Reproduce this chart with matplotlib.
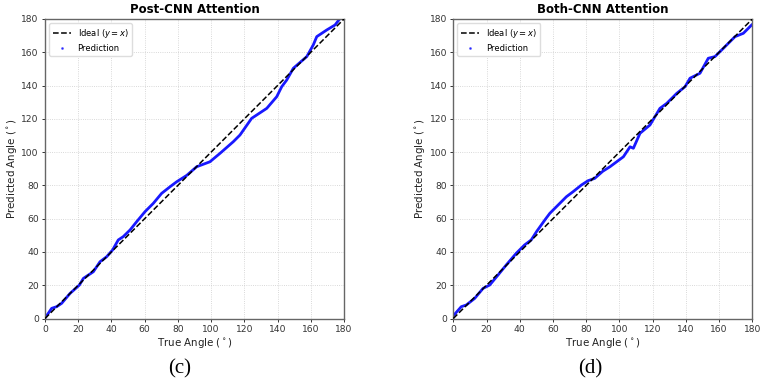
import matplotlib
matplotlib.use("Agg")
import matplotlib.pyplot as plt
from matplotlib.lines import Line2D

# readings (true angle, predicted angle)
post_true = [0.6, 4.0, 7.0, 10.0, 15.1, 20.7, 23.1, 29.1, 33.1, 37.1, 40.7, 44.1, 47.1,
             51.2, 55.2, 60.2, 65.2, 70.2, 75.3, 79.3, 85.3, 91.3, 99.3, 105.4, 113.4,
             117.4, 124.4, 133.5, 139.5, 142.5, 145.5, 149.5, 157.6, 161.5, 163.6,
             169.6, 174.6, 177.6, 180.0]
post_pred = [1.1, 6.1, 7.1, 9.1, 15.1, 20.1, 24.1, 28.1, 34.1, 37.1, 41.2, 47.2, 49.2,
             53.2, 58.2, 64.2, 69.2, 75.2, 79.2, 82.2, 86.0, 91.2, 94.2, 99.3, 106.3,
             110.3, 120.3, 126.3, 133.3, 139.3, 143.3, 150.4, 157.4, 164.4, 169.4,
             173.4, 176.4, 180.3, 182.0]

both_true = [0.4, 4.8, 7.8, 12.9, 17.9, 21.9, 26.9, 31.9, 37.9, 42.9, 46.9, 50.1, 55.1,
             58.1, 63.1, 68.1, 72.1, 77.1, 81.1, 85.1, 90.0, 94.3, 102.4, 106.4, 108.4,
             112.4, 118.4, 124.4, 128.5, 134.5, 139.5, 142.5, 148.5, 153.5, 157.5,
             162.6, 169.6, 174.6, 179.6]
both_pred = [2.1, 7.1, 8.1, 12.1, 18.1, 20.1, 26.1, 32.2, 39.2, 44.2, 47.2, 52.2, 59.2,
             63.2, 68.2, 73.2, 76.2, 80.2, 82.8, 84.2, 88.5, 91.2, 97.2, 103.2, 102.3,
             111.3, 116.3, 126.3, 129.3, 135.3, 139.3, 144.4, 147.4, 156.4, 157.4,
             162.4, 169.4, 171.4, 176.4]

ideal = [0, 180]
titles = ["Post-CNN Attention", "Both-CNN Attention"]
panel_tags = ["(c)", "(d)"]
ticks = list(range(0, 181, 20))

W, H = 765, 387
fig = plt.figure(figsize=(W / 100, H / 100), dpi=100)

boxes = [[45 / W, (H - 318.5) / H, 299 / W, 299.5 / H],
         [453.3 / W, (H - 318.5) / H, 299 / W, 299.5 / H]]
series = [(post_true, post_pred), (both_true, both_pred)]
tag_x = [180 / W, 590 / W]

for box, (xt, yp), title, tag, tx in zip(boxes, series, titles, panel_tags, tag_x):
    ax = fig.add_axes(box)
    ax.plot(ideal, ideal, "k--", lw=1.1, zorder=3)
    ax.plot(xt, yp, color="blue", lw=2.0, alpha=0.9, zorder=2)
    ax.set_xlim(0, 180)
    ax.set_ylim(0, 180)
    ax.set_xticks(ticks)
    ax.set_yticks(ticks)
    ax.grid(True, ls=":", lw=0.6, color="#cccccc")
    ax.tick_params(labelsize=6.6, colors="#333333", length=2.5, width=0.7, pad=2)
    for s in ax.spines.values():
        s.set_color("#666666")
        s.set_linewidth(1.0)
    ax.set_title(title, fontsize=8.5, fontweight="bold", pad=4)
    ax.set_xlabel(r"True Angle ($^\circ$)", fontsize=7.4, color="#222222")
    ax.set_ylabel(r"Predicted Angle ($^\circ$)", fontsize=7.4, color="#222222")
    ax.xaxis.set_label_coords(0.5, -0.058)
    ax.yaxis.set_label_coords(-0.087, 0.5)
    handles = [Line2D([], [], color="k", ls="--", lw=1.1),
               Line2D([], [], color="blue", marker=".", ls="none", ms=2, alpha=0.6)]
    ax.legend(handles, [r"Ideal ($y = x$)", "Prediction"], loc="upper left",
              fontsize=6, framealpha=1, edgecolor="#dddddd", handlelength=2.2)
    fig.text(tx, (H - 369) / H, tag, ha="center", va="center",
             family="Liberation Serif", fontsize=15)

fig.savefig("out.png", dpi=100)
